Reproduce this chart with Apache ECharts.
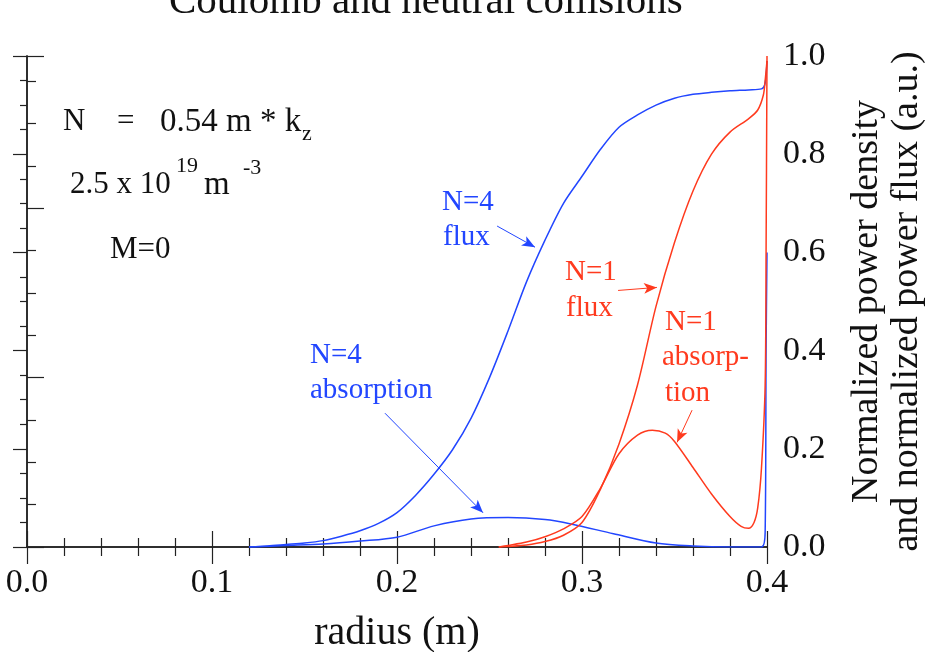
<!DOCTYPE html>
<html>
<head>
    <meta charset="UTF-8">
    <title>Coulomb and neutral collisions</title>
    <style>
        body,
        html {
            width: 100%;
            height: 100%;
            margin: 0;
            padding: 0;
            background: #fff;
        }
        #myChart {
            width: 933px;
            height: 652px;
        }
    </style>
    <script src="https://cdn.jsdelivr.net/npm/echarts@6/dist/echarts.min.js"></script>
</head>
<body>
    <div id="myChart"></div>
    <script>
        // 数据 (radius in m, normalized value)
        let n4FluxR = [0.12, 0.13, 0.14, 0.15, 0.16, 0.17, 0.18, 0.19, 0.20, 0.21, 0.22, 0.23, 0.24, 0.25, 0.26, 0.27, 0.28, 0.29, 0.30, 0.31, 0.32, 0.33, 0.34, 0.35, 0.36, 0.37, 0.38, 0.39, 0.397, 0.399, 0.4];
        let n4FluxV = [0, 0.002, 0.005, 0.008, 0.013, 0.022, 0.033, 0.048, 0.07, 0.105, 0.148, 0.198, 0.262, 0.345, 0.44, 0.54, 0.625, 0.70, 0.755, 0.81, 0.855, 0.88, 0.90, 0.914, 0.922, 0.926, 0.929, 0.931, 0.933, 0.945, 0.99];

        let n4AbsR = [0.12, 0.14, 0.16, 0.18, 0.20, 0.22, 0.24, 0.26, 0.28, 0.294, 0.317, 0.34, 0.36, 0.38, 0.397, 0.399, 0.3995, 0.4];
        let n4AbsV = [0, 0.003, 0.006, 0.012, 0.02, 0.043, 0.057, 0.06, 0.056, 0.047, 0.027, 0.008, 0.002, 0, 0, 0.03, 0.4, 0.6];

        let n1FluxR = [0.255, 0.26, 0.27, 0.28, 0.29, 0.30, 0.31, 0.32, 0.33, 0.34, 0.35, 0.36, 0.37, 0.38, 0.39, 0.395, 0.398, 0.399, 0.4];
        let n1FluxV = [0, 0.001, 0.004, 0.011, 0.024, 0.05, 0.118, 0.21, 0.33, 0.49, 0.62, 0.725, 0.80, 0.845, 0.872, 0.89, 0.92, 0.95, 0.99];

        let n1AbsR = [0.255, 0.26, 0.27, 0.28, 0.29, 0.30, 0.31, 0.32, 0.33, 0.338, 0.345, 0.35, 0.36, 0.37, 0.38, 0.386, 0.39, 0.393, 0.395, 0.397, 0.399, 0.3995, 0.4];
        let n1AbsV = [0, 0.003, 0.01, 0.021, 0.037, 0.062, 0.12, 0.19, 0.228, 0.238, 0.232, 0.215, 0.162, 0.108, 0.062, 0.042, 0.038, 0.05, 0.08, 0.16, 0.33, 0.6, 1.0];

        // 箭头 [x1, y1, x2, y2]
        let blueArrows = [[0.2541, 0.6537, 0.2746, 0.6107], [0.1935, 0.2725, 0.2465, 0.0697]];
        let redArrows = [[0.3195, 0.5225, 0.3405, 0.5287], [0.3595, 0.2787, 0.3514, 0.2131]];

        let xTicks = [0, 0.1, 0.2, 0.3, 0.4];
        let yTicks = [0, 0.2, 0.4, 0.6, 0.8, 1.0];

        const BLUE = '#2246ff';
        const RED = '#ff3a1e';
        const FONT = '"Liberation Serif", "Times New Roman", serif';

        function zip(xs, ys) {
            return xs.map((x, i) => [x, ys[i]]);
        }
        function arrowLines(list) {
            return list.map(a => [{ coord: [a[0], a[1]] }, { coord: [a[2], a[3]] }]);
        }

        let myEcharts = echarts.init(document.querySelector('#myChart'), null, { renderer: 'canvas' });

        function lineSeries(name, xs, ys, color, arrows) {
            return {
                name: name,
                type: 'line',
                yAxisIndex: 1,
                data: zip(xs, ys),
                showSymbol: false,
                smooth: 0.3,
                lineStyle: { color: color, width: 1.5 },
                itemStyle: { color: color },
                silent: true,
                markLine: arrows ? {
                    silent: true,
                    symbol: ['none', 'arrow'],
                    symbolSize: [8, 13],
                    label: { show: false },
                    lineStyle: { color: color, width: 1, type: 'solid' },
                    data: arrowLines(arrows)
                } : undefined
            };
        }

        function txt(x, y, s, color, size) {
            return {
                type: 'text',
                x: x,
                y: y,
                style: {
                    text: s,
                    fill: color,
                    font: (size || 30) + 'px ' + FONT,
                    verticalAlign: 'middle'
                }
            };
        }

        let tickColor = '#222';

        let option = {
            animation: false,
            backgroundColor: '#fff',
            title: {
                text: 'Coulomb and neutral collisions',
                left: 164,
                top: -23,
                textStyle: { fontFamily: FONT, fontSize: 41, fontWeight: 'normal', color: '#111' }
            },
            grid: { left: 27, right: 166, top: 56, bottom: 105, outerBoundsMode: 'none', containLabel: false },
            xAxis: [{
                type: 'value',
                position: 'bottom',
                min: 0,
                max: 0.4,
                interval: 0.1,
                name: 'radius (m)',
                nameLocation: 'middle',
                nameGap: 66,
                nameTextStyle: { fontFamily: FONT, fontSize: 40, color: '#111' },
                axisLine: { show: true, lineStyle: { color: tickColor, width: 1.5 } },
                axisTick: { inside: true, length: 16, lineStyle: { color: tickColor, width: 1.2 } },
                minorTick: { show: true, splitNumber: 5, length: 9, lineStyle: { color: tickColor, width: 1.2 } },
                axisLabel: {
                    margin: 19,
                    fontFamily: FONT, fontSize: 34, color: '#111',
                    formatter: v => xTicks.indexOf(Math.round(v * 10) / 10) >= 0 ? v.toFixed(1) : ''
                },
                splitLine: { show: false }
            }, {
                type: 'value',
                position: 'top',
                min: 0,
                max: 0.4,
                interval: 0.1,
                axisLine: { show: true, lineStyle: { color: tickColor, width: 1.5 } },
                axisTick: { inside: true, length: 17, lineStyle: { color: tickColor, width: 1.2 } },
                minorTick: { show: true, splitNumber: 5, length: 9, lineStyle: { color: tickColor, width: 1.2 } },
                axisLabel: { show: false },
                splitLine: { show: false }
            }],
            yAxis: [{
                type: 'value',
                position: 'left',
                min: 0,
                max: 2.9,
                interval: 1,
                axisLine: { show: true, lineStyle: { color: tickColor, width: 1.5 } },
                axisTick: { inside: true, length: 17, lineStyle: { color: tickColor, width: 1.2 } },
                minorTick: { show: true, splitNumber: 4, length: 9, lineStyle: { color: tickColor, width: 1.2 } },
                axisLabel: { show: false },
                splitLine: { show: false }
            }, {
                type: 'value',
                position: 'right',
                min: 0,
                max: 1,
                interval: 0.2,
                name: 'Normalized power density\nand normalized power flux (a.u.)',
                nameLocation: 'middle',
                nameRotate: 90,
                nameGap: 80,
                nameTextStyle: { fontFamily: FONT, fontSize: 38, lineHeight: 40, color: '#111' },
                axisLine: { show: true, lineStyle: { color: tickColor, width: 1.5 } },
                axisTick: { inside: true, length: 14, lineStyle: { color: tickColor, width: 1.2 } },
                minorTick: { show: true, splitNumber: 4, length: 7, lineStyle: { color: tickColor, width: 1.2 } },
                axisLabel: {
                    margin: 16,
                    fontFamily: FONT, fontSize: 34, color: '#111',
                    formatter: v => yTicks.indexOf(Math.round(v * 10) / 10) >= 0 ? v.toFixed(1) : ''
                },
                splitLine: { show: false }
            }],
            series: [
                lineSeries('N=4 flux', n4FluxR, n4FluxV, BLUE, blueArrows),
                lineSeries('N=4 absorption', n4AbsR, n4AbsV, BLUE),
                lineSeries('N=1 flux', n1FluxR, n1FluxV, RED, redArrows),
                lineSeries('N=1 absorption', n1AbsR, n1AbsV, RED)
            ],
            graphic: [
                txt(63, 122, 'N', '#111', 31),
                txt(117, 122, '=', '#111', 31),
                txt(160, 122, '0.54 m * k', '#111', 33),
                txt(302, 134, 'z', '#111', 22),
                txt(70, 185, '2.5 x 10', '#111', 31),
                txt(176, 166, '19', '#111', 22),
                txt(204, 185, 'm', '#111', 33),
                txt(243, 168, '-3', '#111', 22),
                txt(110, 250, 'M=0', '#111', 31),

                txt(442, 202, 'N=4', BLUE, 29),
                txt(443, 237, 'flux', BLUE, 29),
                txt(310, 355, 'N=4', BLUE, 29),
                txt(310, 390, 'absorption', BLUE, 29),

                txt(565, 272, 'N=1', RED, 29),
                txt(566, 308, 'flux', RED, 29),
                txt(665, 322, 'N=1', RED, 29),
                txt(662, 357, 'absorp-', RED, 29),
                txt(665, 393, 'tion', RED, 29)
            ]
        };
        myEcharts.setOption(option, true);
    </script>
</body>
</html>
